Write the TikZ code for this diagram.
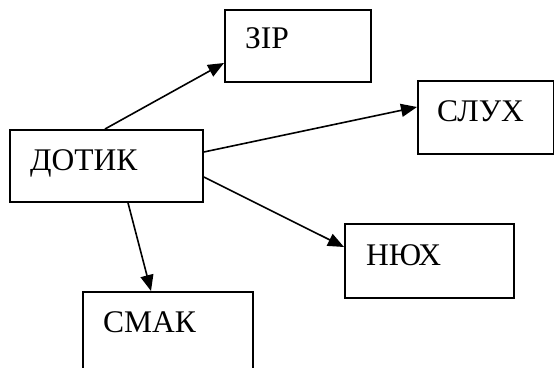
\documentclass[tikz,border=0pt]{standalone}
\usepackage{fontspec}
\setmainfont{Liberation Serif}
\usetikzlibrary{arrows.meta}
\begin{document}
\begin{tikzpicture}[x=1pt,y=-1pt,
  box/.style={draw, line width=1.8pt, rectangle, inner sep=0pt, anchor=north west},
  lbl/.style={anchor=base west, inner sep=0pt, font=\fontsize{31.5}{36}\selectfont},
  arr/.style={line width=1.6pt, -{Triangle[length=16pt,width=13pt]}}]
\useasboundingbox (0,0) rectangle (554,367);
\node[box, minimum width=146pt, minimum height=72pt] (zir) at (224,9) {};
\node[box, minimum width=136pt, minimum height=73pt] (sluh) at (417,80) {};
\node[box, minimum width=193pt, minimum height=72pt] (dotik) at (9,129) {};
\node[box, minimum width=169pt, minimum height=74pt] (nyuh) at (344,223) {};
\node[box, minimum width=170pt, minimum height=100pt] (smak) at (82,291) {};
\node[lbl] (tzir) at ([xshift=21pt,yshift=-39pt]zir.north west) {ЗІР};
\node[lbl] (tsluh) at ([xshift=20pt,yshift=-41pt]sluh.north west) {СЛУХ};
\node[lbl] (tdotik) at ([xshift=21pt,yshift=-41pt]dotik.north west) {ДОТИК};
\node[lbl] (tnyuh) at ([xshift=22pt,yshift=-42pt]nyuh.north west) {НЮХ};
\node[lbl] (tsmak) at ([xshift=21pt,yshift=-41pt]smak.north west) {СМАК};
\draw[arr] ([xshift=96pt]dotik.north west) -- ([yshift=-54pt]zir.north west);
\draw[arr] ([yshift=-23pt]dotik.north east) -- ([yshift=-27pt]sluh.north west);
\draw[arr] ([yshift=-48pt]dotik.north east) -- ([yshift=-24pt]nyuh.north west);
\draw[arr] ([xshift=119pt]dotik.south west) -- ([xshift=69pt]smak.north west);
\end{tikzpicture}
\end{document}
